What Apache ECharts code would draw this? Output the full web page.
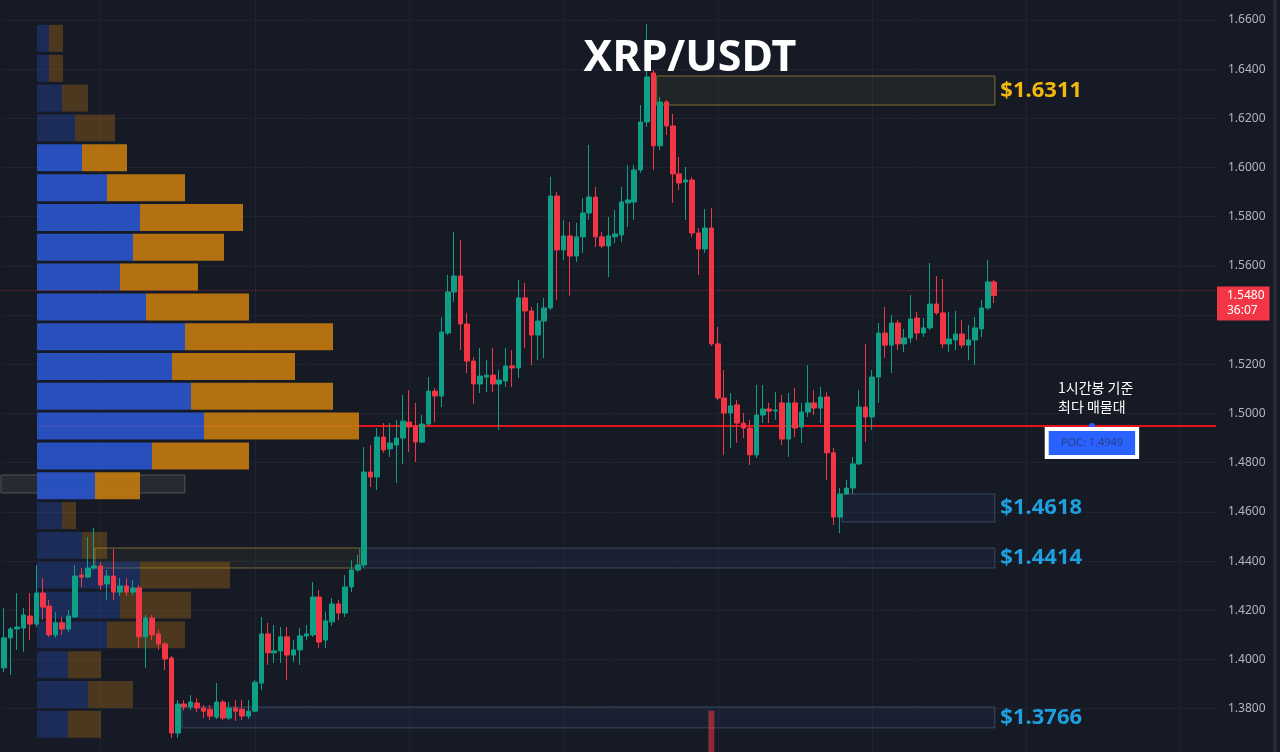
<!DOCTYPE html>
<html>
<head>
<meta charset="utf-8">
<script src="https://cdn.jsdelivr.net/npm/echarts@6/dist/echarts.min.js"></script>
<style>
html,body{margin:0;padding:0;background:#161a25;}
#chart{width:1280px;height:752px;}
</style>
</head>
<body>
<div id="chart"></div>
<script>
// ---------------- DATA ----------------
const slotCount = 189; // hourly slots on the time axis (155 candles + empty space to the right)
const slots = Array.from({length: slotCount}, (_, i) => 'H' + i);

// [open, close, low, high] hourly candles, XRP/USDT
const candles = [
[1.3966,1.4088,1.3949,1.4209],[1.4088,1.4124,1.3937,1.4132],[1.4124,1.4132,1.4039,1.4270],[1.4128,1.4181,1.4031,1.4209],
[1.4177,1.4144,1.4079,1.4270],[1.4144,1.4270,1.4132,1.4384],[1.4270,1.4213,1.4161,1.4331],[1.4217,1.4100,1.4092,1.4242],
[1.4100,1.4149,1.4088,1.4193],[1.4149,1.4124,1.4100,1.4173],[1.4124,1.4177,1.4112,1.4201],[1.4173,1.4339,1.4169,1.4384],
[1.4343,1.4335,1.4295,1.4372],[1.4335,1.4372,1.4331,1.4498],[1.4372,1.4380,1.4364,1.4535],[1.4380,1.4303,1.4283,1.4396],
[1.4307,1.4339,1.4242,1.4364],[1.4339,1.4274,1.4242,1.4449],[1.4274,1.4299,1.4258,1.4331],[1.4299,1.4274,1.4258,1.4331],
[1.4274,1.4291,1.4262,1.4323],[1.4291,1.4092,1.4047,1.4303],[1.4092,1.4169,1.3966,1.4181],[1.4169,1.4100,1.4079,1.4181],
[1.4104,1.4063,1.4039,1.4120],[1.4063,1.4002,1.3957,1.4071],[1.4006,1.3701,1.3681,1.4014],[1.3701,1.3819,1.3681,1.3835],
[1.3819,1.3807,1.3794,1.3835],[1.3807,1.3827,1.3794,1.3855],[1.3823,1.3803,1.3786,1.3843],[1.3803,1.3790,1.3762,1.3815],
[1.3798,1.3770,1.3754,1.3815],[1.3766,1.3827,1.3758,1.3904],[1.3827,1.3762,1.3754,1.3835],[1.3762,1.3803,1.3754,1.3827],
[1.3803,1.3790,1.3750,1.3835],[1.3798,1.3770,1.3754,1.3835],[1.3770,1.3790,1.3758,1.3835],[1.3790,1.3908,1.3786,1.3916],
[1.3904,1.4104,1.3876,1.4173],[1.4104,1.4027,1.3978,1.4149],[1.4027,1.4035,1.3986,1.4140],[1.4035,1.4092,1.3986,1.4132],
[1.4092,1.4018,1.3916,1.4132],[1.4018,1.4039,1.3990,1.4079],[1.4039,1.4096,1.3978,1.4128],[1.4096,1.4104,1.4079,1.4140],
[1.4100,1.4254,1.4092,1.4315],[1.4254,1.4071,1.4047,1.4283],[1.4079,1.4157,1.4047,1.4193],[1.4153,1.4226,1.4136,1.4250],
[1.4226,1.4189,1.4161,1.4242],[1.4189,1.4295,1.4173,1.4343],[1.4295,1.4364,1.4274,1.4404],[1.4364,1.4384,1.4356,1.4425],
[1.4384,1.4762,1.4372,1.4864],[1.4762,1.4742,1.4701,1.4872],[1.4742,1.4904,1.4689,1.4941],[1.4904,1.4852,1.4840,1.4961],
[1.4856,1.4880,1.4823,1.4961],[1.4872,1.4900,1.4718,1.4973],[1.4900,1.4969,1.4795,1.5075],[1.4965,1.4945,1.4843,1.5095],
[1.4949,1.4884,1.4803,1.5043],[1.4884,1.4957,1.4880,1.4994],[1.4957,1.5091,1.4953,1.5148],[1.5091,1.5071,1.4965,1.5104],
[1.5071,1.5331,1.5026,1.5392],[1.5327,1.5494,1.5319,1.5563],[1.5494,1.5559,1.5453,1.5738],[1.5559,1.5364,1.5258,1.5705],
[1.5364,1.5213,1.5165,1.5409],[1.5213,1.5120,1.5039,1.5229],[1.5120,1.5152,1.5083,1.5266],[1.5148,1.5156,1.5087,1.5217],
[1.5156,1.5120,1.5087,1.5266],[1.5120,1.5136,1.4933,1.5177],[1.5132,1.5193,1.5108,1.5266],[1.5193,1.5185,1.5108,1.5258],
[1.5185,1.5470,1.5144,1.5543],[1.5470,1.5417,1.5266,1.5531],[1.5417,1.5319,1.5197,1.5433],[1.5319,1.5376,1.5217,1.5449],
[1.5376,1.5429,1.5225,1.5470],[1.5429,1.5884,1.5421,1.5962],[1.5884,1.5665,1.5462,1.5901],[1.5665,1.5722,1.5624,1.5787],
[1.5722,1.5640,1.5478,1.5779],[1.5640,1.5718,1.5616,1.5775],[1.5718,1.5815,1.5653,1.5876],[1.5815,1.5880,1.5787,1.6092],
[1.5880,1.5718,1.5677,1.5921],[1.5718,1.5681,1.5673,1.5738],[1.5681,1.5722,1.5555,1.5799],[1.5718,1.5730,1.5693,1.5827],
[1.5726,1.5860,1.5697,1.5921],[1.5856,1.5868,1.5758,1.6010],[1.5860,1.5990,1.5787,1.6010],[1.5990,1.6185,1.5978,1.6254],
[1.6185,1.6368,1.6165,1.6583],[1.6384,1.6088,1.5990,1.6396],[1.6088,1.6266,1.6071,1.6287],[1.6266,1.6169,1.6132,1.6274],
[1.6169,1.5974,1.5856,1.6218],[1.5974,1.5937,1.5909,1.6043],[1.5941,1.5949,1.5787,1.6002],[1.5949,1.5734,1.5718,1.5962],
[1.5734,1.5669,1.5563,1.5754],[1.5669,1.5754,1.5653,1.5831],[1.5754,1.5283,1.5275,1.5835],[1.5283,1.5063,1.5055,1.5352],
[1.5063,1.5002,1.4832,1.5177],[1.5002,1.5031,1.4860,1.5083],[1.5035,1.4961,1.4880,1.5055],[1.4961,1.4941,1.4900,1.5002],
[1.4941,1.4832,1.4791,1.4974],[1.4832,1.4994,1.4819,1.5116],[1.4994,1.5018,1.4961,1.5116],[1.5018,1.5010,1.4961,1.5043],
[1.5010,1.5014,1.4974,1.5087],[1.5043,1.4896,1.4872,1.5075],[1.4896,1.5043,1.4823,1.5083],[1.5043,1.4941,1.4904,1.5104],
[1.4945,1.5006,1.4880,1.5043],[1.5006,1.5043,1.4986,1.5197],[1.5043,1.5022,1.4994,1.5095],[1.5022,1.5067,1.4961,1.5108],
[1.5067,1.4840,1.4730,1.5087],[1.4840,1.4579,1.4547,1.4860],[1.4579,1.4673,1.4514,1.4697],[1.4673,1.4697,1.4669,1.4730],
[1.4697,1.4795,1.4673,1.4823],[1.4795,1.5026,1.4791,1.5095],[1.5026,1.4986,1.4884,1.5283],[1.4986,1.5148,1.4933,1.5177],
[1.5148,1.5327,1.5043,1.5368],[1.5327,1.5278,1.5226,1.5433],[1.5278,1.5368,1.5165,1.5400],[1.5368,1.5283,1.5258,1.5380],
[1.5283,1.5307,1.5250,1.5344],[1.5307,1.5384,1.5287,1.5482],[1.5388,1.5327,1.5299,1.5413],[1.5327,1.5348,1.5311,1.5388],
[1.5348,1.5445,1.5340,1.5612],[1.5445,1.5409,1.5401,1.5559],[1.5409,1.5283,1.5266,1.5547],[1.5283,1.5303,1.5250,1.5413],
[1.5299,1.5323,1.5258,1.5417],[1.5323,1.5278,1.5266,1.5380],[1.5278,1.5299,1.5217,1.5360],[1.5299,1.5348,1.5197,1.5392],
[1.5344,1.5429,1.5311,1.5462],[1.5429,1.5535,1.5421,1.5624],[1.5535,1.5480,1.5449,1.5543]
];

// volume bar that reaches into the price pane: [slot index, volume]
const volumeBars = [[110, 60]];

// Volume profile (1h) : bin mid prices, buy / sell volume per bin
const vpPrices = [1.6525,1.6403,1.6282,1.6161,1.6040,1.5918,1.5797,1.5676,1.5555,1.5433,1.5312,1.5191,
                  1.5070,1.4949,1.4827,1.4706,1.4585,1.4464,1.4343,1.4221,1.4100,1.3979,1.3858,1.3737];
const vpBuy  = [12,12,25,38,45,70,103,96,83,109,148,135,154,167,115,58,25,45,103,83,70,31,51,31];
const vpSell = [14,14,26,40,45,78,103,91,78,103,148,123,142,155,97,45,14,25,90,71,78,33,45,33];
const vpRowSize = 0.0121;
const vpValueArea = [4, 15];   // first / last bin inside the value area

// Price zones: slot range (candle index units) and price range
const zones = [
  {from: 101.5, to: 154.1, top: 1.6372, bottom: 1.6254, label: '$1.6311', kind: 'gold'},
  {from: 130.3, to: 154.1, top: 1.4673, bottom: 1.4559, label: '$1.4618', kind: 'blue'},
  {from: 55.3,  to: 154.1, top: 1.4453, bottom: 1.4372, label: '$1.4414', kind: 'blue'},
  {from: 14.1,  to: 55.3,  top: 1.4453, bottom: 1.4372, label: '',        kind: 'olive'},
  {from: 27.65, to: 154.1, top: 1.3807, bottom: 1.3722, label: '$1.3766', kind: 'blue'},
  {from: -0.65, to: 28.1,  top: 1.4750, bottom: 1.4677, label: '',        kind: 'gray'}
];

const pocPrice = 1.4949;
const pocFrom = 5.1;
const pocLabelSlot = 169.2;
const currentPrice = 1.5480;
const countdown = '36:07';
const dayLines = [15, 39, 63, 87, 111, 135, 159, 183];
const hiddenTickLabels = ['1.5400'];
const title = 'XRP/USDT';
const note = '1시간봉 기준\n최다 매물대';

// ---------------- CHART ----------------
const UP = '#0f9f86', DOWN = '#f23645';
const zoneStyles = {
  gold:  {fill: 'rgba(62,62,46,0.32)', border: '#7d6c32', text: '#f2b90c'},
  blue:  {fill: 'rgba(50,70,110,0.16)', border: '#3a4860', text: '#1f9fe0'},
  olive: {fill: 'rgba(62,62,46,0.22)', border: '#7a6a38', text: '#f2b90c'},
  gray:  {fill: 'rgba(72,74,72,0.35)', border: '#55554c', text: '#ccc'}
};

const chart = echarts.init(document.getElementById('chart'), null, {renderer: 'canvas'});
const yMin = 1.36, yMax = 1.68;
const gridTop = -29.3, gridBottom = -5.9;

const option = {
  backgroundColor: '#161a25',
  animation: false,
  textStyle: {fontFamily: 'Noto Sans'},
  grid: [
    {left: 1, right: 64, top: gridTop, bottom: gridBottom, outerBoundsMode: 'none', containLabel: false},
    {left: 37, width: 400, top: gridTop, bottom: gridBottom, outerBoundsMode: 'none', containLabel: false}
  ],
  xAxis: [
    {type: 'category', gridIndex: 0, data: slots, boundaryGap: true, show: false},
    {type: 'value', gridIndex: 0, min: -0.5, max: slotCount - 0.5, show: false},
    {type: 'value', gridIndex: 1, min: 0, max: 400, show: false}
  ],
  yAxis: [
    {type: 'value', gridIndex: 0, position: 'right', min: yMin, max: yMax, interval: 0.02,
     axisLine: {show: false}, axisTick: {show: false},
     axisLabel: {color: '#b2b5be', fontSize: 12, margin: 12, fontFamily: 'Noto Sans',
       formatter: v => { const s = v.toFixed(4); return hiddenTickLabels.includes(s) ? '' : s; }},
     splitLine: {lineStyle: {color: '#1f2330', width: 1}}},
    {type: 'value', gridIndex: 1, min: yMin, max: yMax, show: false},
    {type: 'value', gridIndex: 0, position: 'left', min: 0, max: 1000, show: false}
  ],
  series: [
    { // vertical day separators
      type: 'line', xAxisIndex: 1, yAxisIndex: 0, data: [], z: 0, silent: true,
      markLine: {z: 0, symbol: 'none', silent: true, label: {show: false},
        lineStyle: {color: '#1f2330', width: 1, type: 'solid'},
        data: dayLines.map(u => ({xAxis: u}))}
    },
    { // zones + POC line
      type: 'line', xAxisIndex: 1, yAxisIndex: 0, data: [], z: 1, silent: true,
      markArea: {z: 1, silent: true,
        data: zones.map(zn => {
          const st = zoneStyles[zn.kind];
          return [
            {coord: [zn.from, zn.top],
             itemStyle: {color: st.fill, borderColor: st.border, borderWidth: 1},
             label: {show: !!zn.label, formatter: zn.label, position: 'right', distance: 5,
               color: st.text, fontSize: 22, fontWeight: 'bold', fontFamily: 'Noto Sans'}},
            {coord: [zn.to, zn.bottom]}
          ];
        })},
      markLine: {z: 1, symbol: 'none', silent: true, label: {show: false},
        lineStyle: {color: '#e8141c', width: 2, type: 'solid'},
        data: [[{coord: [pocFrom, pocPrice]}, {coord: [slotCount - 0.5, pocPrice]}]]},
      markPoint: {z: 6, silent: true,
        data: [{coord: [pocLabelSlot, pocPrice], symbol: 'circle', symbolSize: 6,
          itemStyle: {color: '#2962ff'},
          label: {show: true, position: 'bottom', distance: 2,
            formatter: 'POC: ' + pocPrice.toFixed(4),
            backgroundColor: '#2962ff', borderColor: '#ffffff', borderWidth: 4,
            padding: [5, 12], color: '#2b3f80', fontSize: 11, lineHeight: 14}}]}
    },
    { // volume profile
      type: 'custom', xAxisIndex: 2, yAxisIndex: 1, z: 2, silent: true,
      encode: {x: [0, 1], y: 2},
      data: vpPrices.map((p, i) => [vpBuy[i], vpSell[i], p, i]),
      renderItem: function (params, api) {
        const buy = api.value(0), sell = api.value(1), mid = api.value(2), row = api.value(3);
        const half = vpRowSize * 0.905 / 2;
        const a = api.coord([0, mid + half]);
        const b = api.coord([buy, mid - half]);
        const c = api.coord([buy + sell, mid - half]);
        const inVA = row >= vpValueArea[0] && row <= vpValueArea[1];
        const op = inVA ? 0.93 : 0.32;
        return {type: 'group', children: [
          {type: 'rect', shape: {x: a[0], y: a[1], width: b[0] - a[0], height: b[1] - a[1]},
           style: {fill: '#2a54c8', opacity: op}},
          {type: 'rect', shape: {x: b[0], y: a[1], width: c[0] - b[0], height: c[1] - a[1]},
           style: {fill: '#c07810', opacity: op}}
        ]};
      }
    },
    { // volume
      type: 'bar', xAxisIndex: 0, yAxisIndex: 2, z: 2, silent: true, barWidth: 6,
      data: volumeBars,
      itemStyle: {color: 'rgba(242,54,69,0.55)'}
    },
    { // candles
      type: 'candlestick', xAxisIndex: 0, yAxisIndex: 0, z: 3, barWidth: 5,
      data: candles,
      itemStyle: {color: UP, color0: DOWN, borderColor: UP, borderColor0: DOWN, borderWidth: 1},
      markLine: {z: 5, symbol: 'none', silent: true,
        lineStyle: {color: 'rgba(242,54,69,0.45)', width: 1, type: 'dotted'},
        label: {position: 'end', distance: 1, offset: [0, 13], formatter: currentPrice.toFixed(4) + '\n' + countdown,
          backgroundColor: DOWN, color: '#ffffff', fontSize: 12, lineHeight: 15,
          padding: [2, 5, 2, 10], fontFamily: 'Noto Sans', align: 'left'},
        data: [{yAxis: currentPrice}]}
    }
  ],
  graphic: [
    {type: 'rect', left: 1273, top: 0, shape: {width: 4, height: 752}, style: {fill: '#262a35'}, silent: true},
    {type: 'text', x: 690, y: 59, z: 100, silent: true,
     style: {text: title, fill: '#ffffff', fontSize: 43, fontWeight: 'bold', fontFamily: 'Noto Sans',
       align: 'center', verticalAlign: 'middle'}},
    {type: 'text', x: 1058, y: 378, z: 100, silent: true,
     style: {text: note, fill: '#ffffff', fontSize: 14, lineHeight: 19, fontFamily: 'Noto Sans CJK KR',
       align: 'left', verticalAlign: 'top'}}
  ]
};
chart.setOption(option);
</script>
</body>
</html>
